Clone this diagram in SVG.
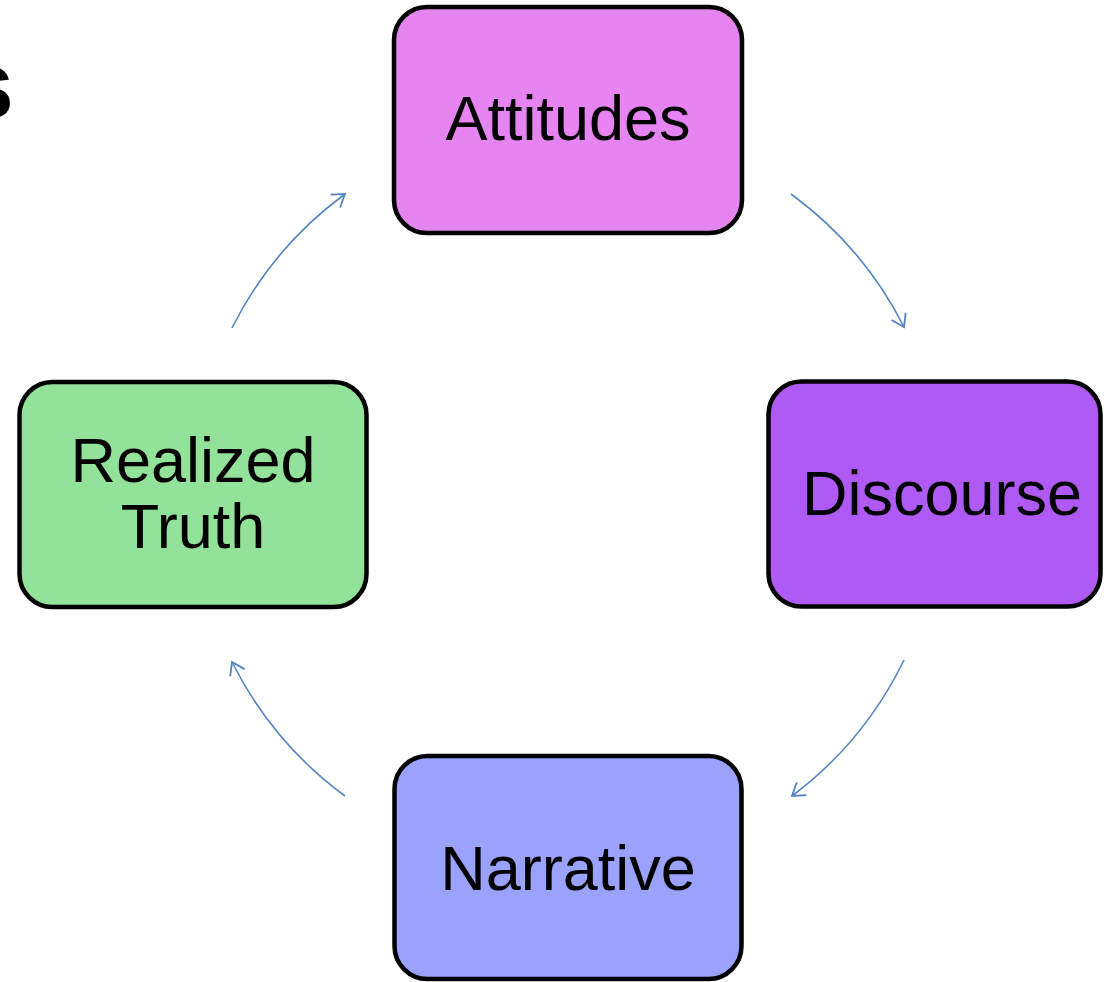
<svg xmlns="http://www.w3.org/2000/svg" width="1104" height="982" viewBox="0 0 1104 982">
  <style>
    .box { stroke: #000; stroke-width: 4.5; }
    .lbl { font-family: "Liberation Sans", Arial, sans-serif; font-size: 63px; fill: #000; text-anchor: middle; }
    .arc { fill: none; stroke: #5584C4; stroke-width: 1.6; marker-end: url(#chev); }
  </style>
  <defs>
    <marker id="chev" markerUnits="userSpaceOnUse" markerWidth="20" markerHeight="20" viewBox="0 0 20 20" refX="16" refY="10" orient="auto">
      <path d="M 4 2 L 16 10 L 4 18" fill="none" stroke="#5584C4" stroke-width="1.8" stroke-linejoin="miter"/>
    </marker>
  </defs>
  <rect width="1104" height="982" fill="#fff"/>
  <text x="14" y="118" style="font-family: 'Liberation Sans', Arial, sans-serif; font-weight: bold; font-size: 96px; text-anchor: end;" fill="#000">s</text>

  <g id="connectors">
    <path class="arc" d="M 232 328 A 374 374 0 0 1 345 194"/>
    <path class="arc" d="M 791 194 A 374 374 0 0 1 904 327"/>
    <path class="arc" d="M 904 660 A 374 374 0 0 1 792 796"/>
    <path class="arc" d="M 345 796 A 374 374 0 0 1 232 662"/>
  </g>

  <g id="attitudes">
    <rect class="box" x="394" y="7" width="348" height="226" rx="33" fill="#E684F1"/>
    <text class="lbl" x="568" y="140">Attitudes</text>
  </g>
  <g id="discourse">
    <rect class="box" x="768.5" y="381.5" width="332" height="225" rx="33" fill="#B05AF5"/>
    <text class="lbl" x="942" y="515">Discourse</text>
  </g>
  <g id="narrative">
    <rect class="box" x="394.5" y="756" width="347" height="223" rx="33" fill="#9BA2FC"/>
    <text class="lbl" x="568" y="890">Narrative</text>
  </g>
  <g id="realized-truth">
    <rect class="box" x="19.5" y="382" width="347" height="225" rx="33" fill="#93E29A"/>
    <text class="lbl" x="193" y="482">Realized</text>
    <text class="lbl" x="193" y="548">Truth</text>
  </g>
</svg>
